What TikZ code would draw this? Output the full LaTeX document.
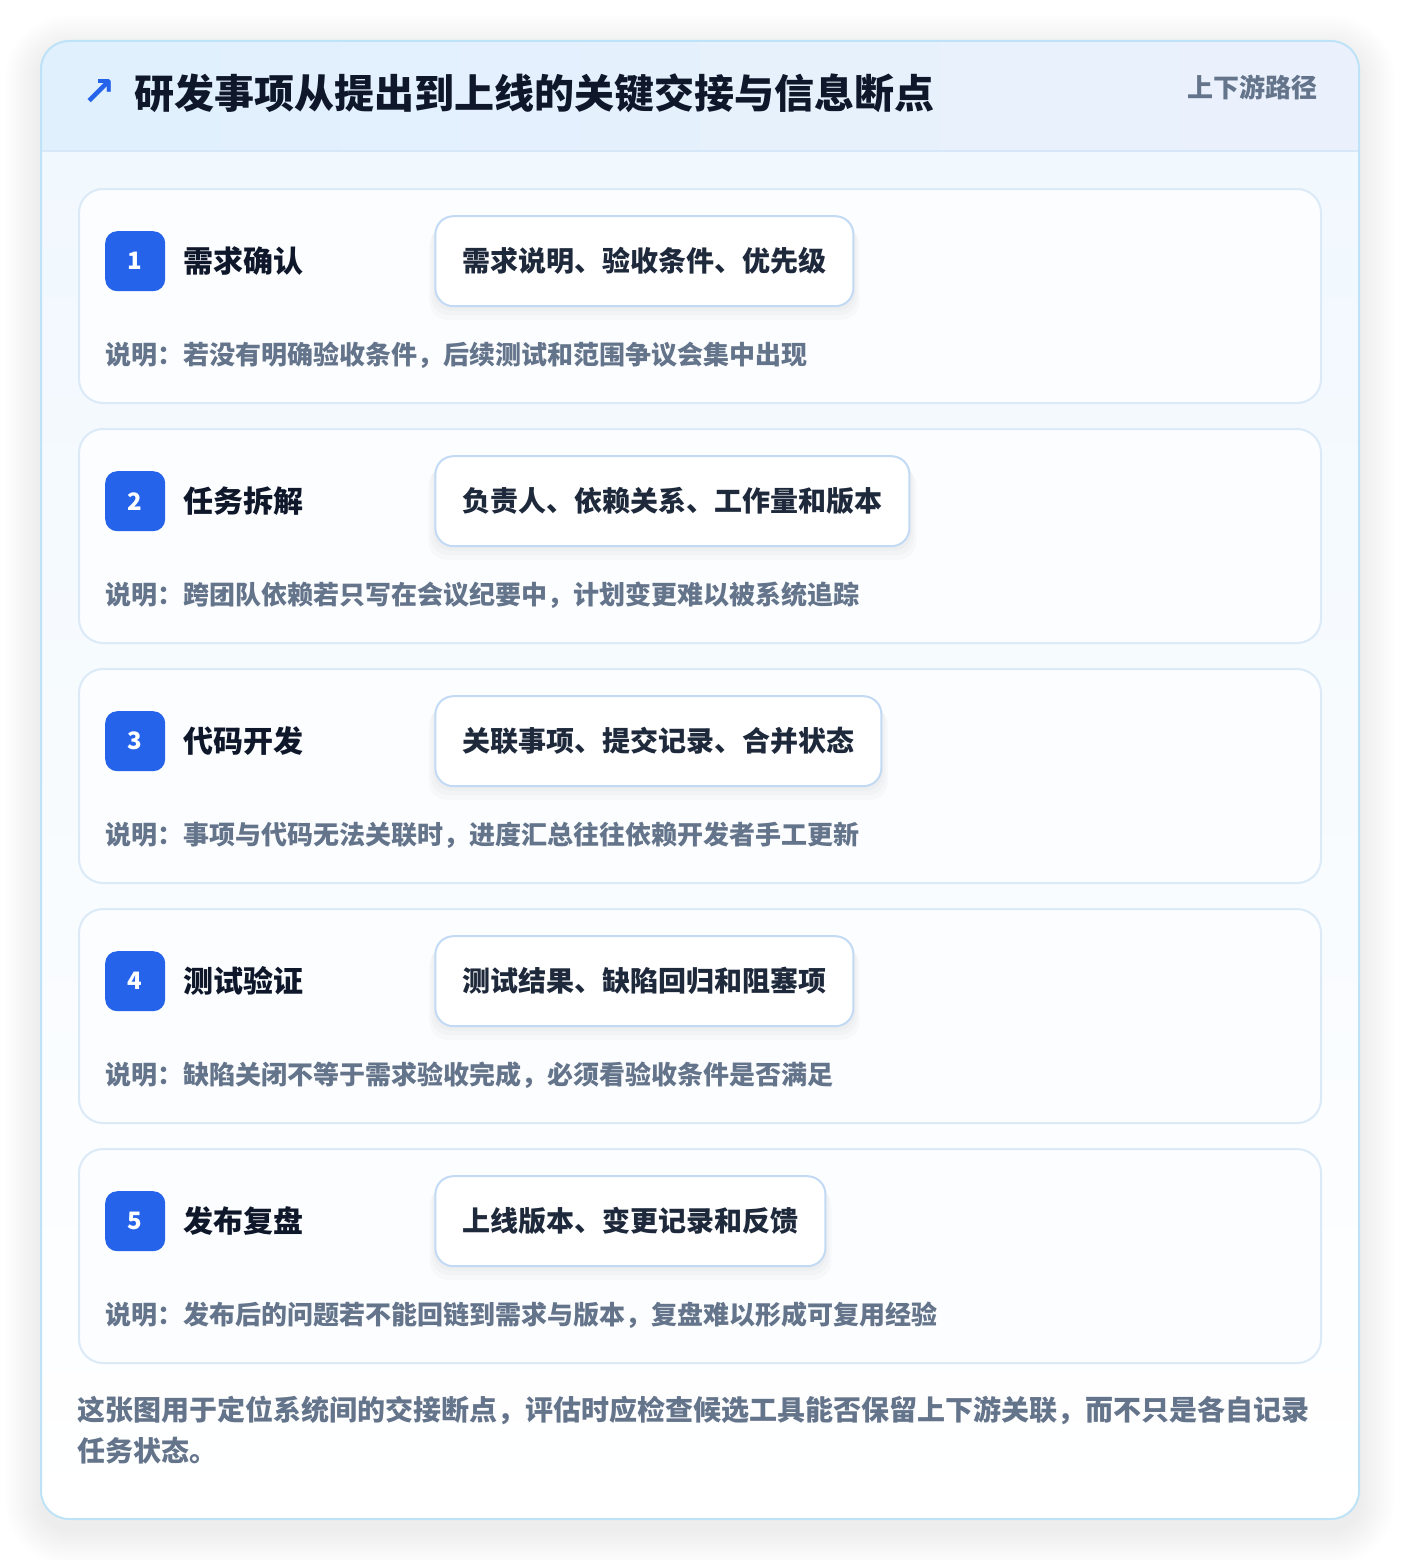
\documentclass[tikz,border=0pt]{standalone}
\usepackage{fontspec}
\setmainfont{Noto Sans CJK SC}
\newfontfamily\symfont{DejaVu Sans}
\usetikzlibrary{positioning, shadows}

\definecolor{frameline}{HTML}{BEE3F8}
\definecolor{headleft}{HTML}{E0F0FD}
\definecolor{headright}{HTML}{EBF1FC}
\definecolor{headrule}{HTML}{D6E7F8}
\definecolor{bodytop}{HTML}{F1F8FE}
\definecolor{cardline}{HTML}{DCEAF8}
\definecolor{cardfill}{HTML}{FCFDFF}
\definecolor{pillline}{HTML}{C3DAF5}
\definecolor{badgeblue}{HTML}{2563EB}
\definecolor{inkdark}{HTML}{0F172A}
\definecolor{inkpill}{HTML}{1E293B}
\definecolor{inkgray}{HTML}{64748B}

\tikzset{
	x=1pt, y=-1pt,
	card/.style={draw=cardline, line width=2pt, fill=cardfill, rounded corners=24pt,
		minimum width=1242pt, minimum height=214pt, inner sep=0pt},
	badge/.style={fill=badgeblue, rounded corners=12pt, minimum size=60pt, inner sep=0pt,
		text=white, font=\fontsize{24}{28}\selectfont\bfseries},
	stage/.style={inner sep=0pt, text=inkdark, font=\fontsize{30}{36}\selectfont\bfseries},
	pill/.style={draw=pillline, line width=2pt, fill=white, rounded corners=18pt,
		minimum height=90pt, inner sep=0pt, text=inkpill, font=\fontsize{28}{34}\selectfont\bfseries,
		general shadow={fill=black, opacity=0.018, shadow yshift=-4pt, shadow scale=1.01},
		general shadow={fill=black, opacity=0.018, shadow yshift=-8pt, shadow scale=1.02},
		general shadow={fill=black, opacity=0.018, shadow yshift=-12pt, shadow scale=1.03}},
	desc/.style={inner sep=0pt, text=inkgray, font=\fontsize{26}{32}\selectfont\bfseries},
	note/.style={inner sep=0pt, text=inkgray, align=left, font=\fontsize{28}{41}\selectfont\bfseries},
	}

\begin{document}
\begin{tikzpicture}
	\useasboundingbox[fill=white] (0,0) rectangle (1400,1560);
	
	% soft halo behind the frame
	\foreach \s [evaluate=\s as \r using 28+\s] in {2,4,...,36}
		\fill[black, opacity=0.005, rounded corners=\r pt] (41-\s,51-\s) rectangle (1359+\s,1529+\s);
	
	% outer frame with header band
	\fill[white] (41,41) [rounded corners=28pt] rectangle (1359,1519);
	\begin{scope}
		\clip (41,41) [rounded corners=28pt] rectangle (1359,1519);
		\shade[left color=headleft, right color=headright] (41,41) rectangle (1359,151);
		\shade[top color=bodytop, bottom color=white] (41,151) rectangle (1359,1519);
	\end{scope}
	\draw[headrule, line width=2pt] (42,151) -- (1358,151);
	\draw[frameline, line width=2pt] (41,41) [rounded corners=28pt] rectangle (1359,1519);
	
	\node[inner sep=0pt, anchor=west, text=inkdark, font=\fontsize{40}{48}\selectfont\bfseries] (ttl) at (134,93) {研发事项从提出到上线的关键交接与信息断点};
	\node[inner sep=0pt, left=18pt of ttl, text=badgeblue, font=\fontsize{40}{44}\selectfont\symfont\bfseries] (mark) {↗};
	\node[inner sep=0pt, anchor=east, text=inkgray, font=\fontsize{26}{30}\selectfont\bfseries] (tag) at (1318,87) {上下游路径};
	
	% step 1
	\node[card] (c1) at (700,296) {};
	\node[badge, below right=43pt and 27pt of c1.north west] (b1) {1};
	\node[stage, right=18pt of b1] (s1) {需求确认};
	\node[pill, right=269pt of b1, minimum width=418pt] (p1) {需求说明、验收条件、优先级};
	\node[desc, below right=50pt and 0pt of b1.south west] (d1) {说明：若没有明确验收条件，后续测试和范围争议会集中出现};
	
	% step 2
	\node[card] (c2) at (700,536) {};
	\node[badge, below right=43pt and 27pt of c2.north west] (b2) {2};
	\node[stage, right=18pt of b2] (s2) {任务拆解};
	\node[pill, right=269pt of b2, minimum width=474pt] (p2) {负责人、依赖关系、工作量和版本};
	\node[desc, below right=50pt and 0pt of b2.south west] (d2) {说明：跨团队依赖若只写在会议纪要中，计划变更难以被系统追踪};
	
	% step 3
	\node[card] (c3) at (700,776) {};
	\node[badge, below right=43pt and 27pt of c3.north west] (b3) {3};
	\node[stage, right=18pt of b3] (s3) {代码开发};
	\node[pill, right=269pt of b3, minimum width=446pt] (p3) {关联事项、提交记录、合并状态};
	\node[desc, below right=50pt and 0pt of b3.south west] (d3) {说明：事项与代码无法关联时，进度汇总往往依赖开发者手工更新};
	
	% step 4
	\node[card] (c4) at (700,1016) {};
	\node[badge, below right=43pt and 27pt of c4.north west] (b4) {4};
	\node[stage, right=18pt of b4] (s4) {测试验证};
	\node[pill, right=269pt of b4, minimum width=418pt] (p4) {测试结果、缺陷回归和阻塞项};
	\node[desc, below right=50pt and 0pt of b4.south west] (d4) {说明：缺陷关闭不等于需求验收完成，必须看验收条件是否满足};
	
	% step 5
	\node[card] (c5) at (700,1256) {};
	\node[badge, below right=43pt and 27pt of c5.north west] (b5) {5};
	\node[stage, right=18pt of b5] (s5) {发布复盘};
	\node[pill, right=269pt of b5, minimum width=390pt] (p5) {上线版本、变更记录和反馈};
	\node[desc, below right=50pt and 0pt of b5.south west] (d5) {说明：发布后的问题若不能回链到需求与版本，复盘难以形成可复用经验};
	
	\node[note, below right=32pt and -1pt of c5.south west] (foot) {这张图用于定位系统间的交接断点，评估时应检查候选工具能否保留上下游关联，而不只是各自记录\\任务状态。};
\end{tikzpicture}
\end{document}
